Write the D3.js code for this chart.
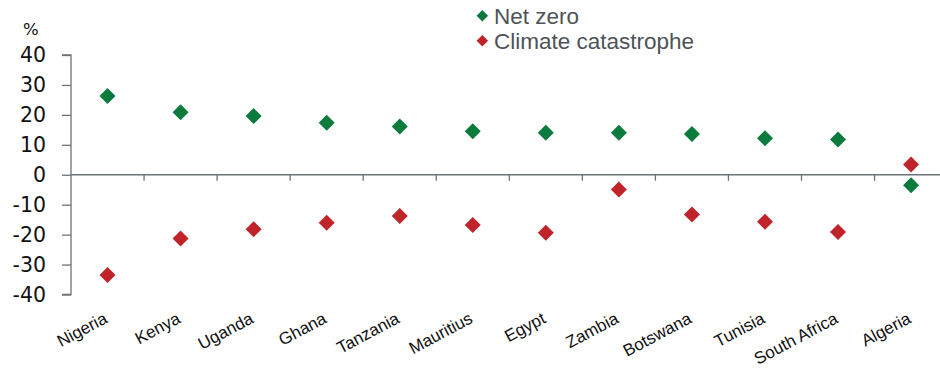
<!DOCTYPE html>
<html>
<head>
<meta charset="utf-8">
<script src="https://cdn.jsdelivr.net/npm/d3@7"></script>
<style>
  html, body { margin: 0; padding: 0; background: #fff; }
  svg { display: block; }
</style>
</head>
<body>
<svg id="chart" width="940" height="371"></svg>
<script>
// Countries along the x axis
const countries = ["Nigeria", "Kenya", "Uganda", "Ghana", "Tanzania", "Mauritius",
  "Egypt", "Zambia", "Botswana", "Tunisia", "South Africa", "Algeria"];
// Change under each scenario, %
const netZero = [26.3, 20.9, 19.6, 17.4, 16.1, 14.5, 14.0, 14.0, 13.6, 12.2, 11.8, -3.5];
const climateCatastrophe = [-33.5, -21.3, -18.2, -16.0, -13.8, -16.8, -19.4, -4.9, -13.3, -15.7, -19.1, 3.4];
const seriesNames = ["Net zero", "Climate catastrophe"];
const yTicks = [40, 30, 20, 10, 0, -10, -20, -30, -40];

const green = "#0b7a3d";
const red = "#c1232b";
const axisColor = "#6d7278";

const svg = d3.select("#chart");

const x = d3.scaleBand().domain(countries).range([71, 947.6]).padding(0);
const y = d3.scaleLinear().domain([-40, 40]).range([294.5, 55]);

// Y axis: vertical line with ticks pointing left
const yAxis = d3.axisLeft(y).tickValues(yTicks).tickSize(9).tickPadding(16)
  .tickFormat(d => String(d));
const gy = svg.append("g").attr("transform", "translate(71,0)").call(yAxis);
gy.select(".domain").attr("stroke", axisColor).attr("stroke-width", 1.3)
  .attr("d", `M-9,${y(40)}H0V${y(-40)}H-9`);
gy.selectAll(".tick line").attr("stroke", axisColor).attr("stroke-width", 1.3);
gy.selectAll(".tick text")
  .attr("fill", "#111")
  .style("font-family", "'DejaVu Sans', sans-serif")
  .style("font-size", "20.5px")
  .attr("x", -25)
  .attr("dy", "0.34em");

// Unit label
svg.append("text").attr("x", 23).attr("y", 35)
  .style("font-family", "'DejaVu Sans', sans-serif").style("font-size", "16.5px")
  .attr("fill", "#111").text("%");

// X axis along zero, ticks at category boundaries pointing down
const gx = svg.append("g").attr("transform", `translate(0,${y(0)})`);
gx.append("line").attr("x1", 71).attr("x2", 947.6).attr("y1", 0).attr("y2", 0)
  .attr("stroke", axisColor).attr("stroke-width", 1.3);
gx.selectAll("line.tick").data(countries.slice(1).concat([null])).enter().append("line")
  .attr("class", "tick")
  .attr("x1", d => d === null ? x.range()[1] : x(d))
  .attr("x2", d => d === null ? x.range()[1] : x(d))
  .attr("y1", 0).attr("y2", 6)
  .attr("stroke", axisColor).attr("stroke-width", 1.3);

// Category labels, rotated
svg.append("g").selectAll("text").data(countries).enter().append("text")
  .attr("transform", d => `translate(${x(d) + x.bandwidth() / 2 + 1},322) rotate(-28)`)
  .attr("text-anchor", "end")
  .style("font-family", "'Liberation Sans', Arial, sans-serif")
  .style("font-size", "17px")
  .attr("fill", "#111")
  .text(d => d);

// Diamond markers
const diamond = d3.symbol().type(d3.symbolSquare).size(128);
const cx = d => x(d) + x.bandwidth() / 2;

const series = [
  { name: seriesNames[0], values: netZero, color: green },
  { name: seriesNames[1], values: climateCatastrophe, color: red }
];

series.forEach(s => {
  svg.append("g").selectAll("path").data(countries).enter().append("path")
    .attr("d", diamond)
    .attr("transform", (d, i) => `translate(${cx(d)},${y(s.values[i])}) rotate(45)`)
    .attr("fill", s.color);
});

// Legend
const legend = svg.append("g");
const legendSym = d3.symbol().type(d3.symbolSquare).size(66);
series.forEach((s, i) => {
  const ly = 15.7 + i * 25;
  legend.append("path").attr("d", legendSym)
    .attr("transform", `translate(482.3,${ly}) rotate(45)`)
    .attr("fill", s.color);
  legend.append("text").attr("x", 494).attr("y", ly + 8.5)
    .style("font-family", "'Liberation Sans', Arial, sans-serif")
    .style("font-size", "22.5px")
    .attr("fill", "#4e5358")
    .text(s.name);
});
</script>
</body>
</html>
